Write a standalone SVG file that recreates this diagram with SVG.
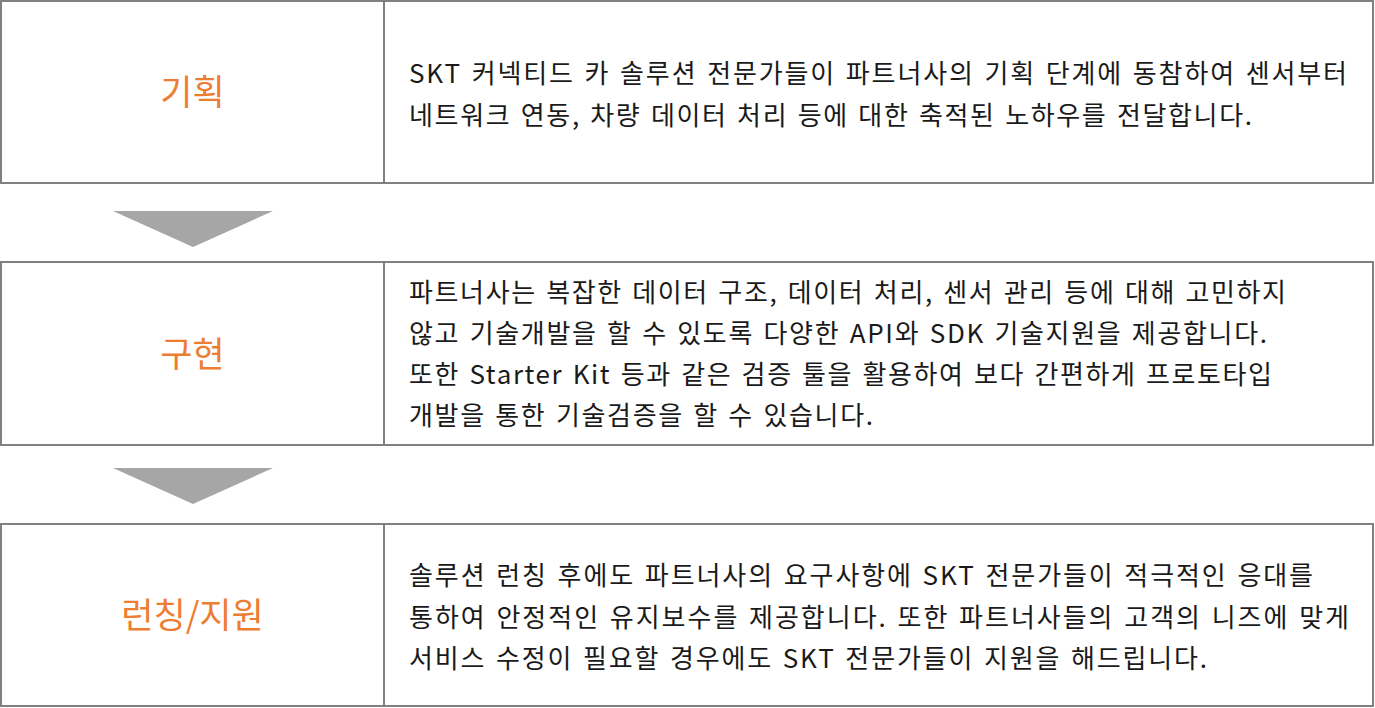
<svg xmlns="http://www.w3.org/2000/svg" width="1375" height="708" viewBox="0 0 1375 708">
<style>
.box{fill:#ffffff;stroke:#808080;stroke-width:2}
.div{stroke:#808080;stroke-width:2}
.lbl{font-family:"Noto Sans CJK KR","Noto Sans",sans-serif;font-size:35px;fill:#ED7D31;text-anchor:middle}
.txt{font-family:"Noto Sans CJK KR","Noto Sans",sans-serif;font-size:26px;fill:#1a1a1a;word-spacing:2px}
.arr{fill:#a6a6a6}
</style>
<rect width="1375" height="708" fill="#ffffff"/>
<g id="planning">
<rect class="box" x="1" y="1" width="1372" height="182"/>
<line class="div" x1="384" y1="1" x2="384" y2="183"/>
<text class="lbl" x="192.5" y="105">기획</text>
<text class="txt" x="409" y="83" textLength="938" lengthAdjust="spacing">SKT 커넥티드 카 솔루션 전문가들이 파트너사의 기획 단계에 동참하여 센서부터</text>
<text class="txt" x="409" y="125" textLength="843" lengthAdjust="spacing">네트워크 연동, 차량 데이터 처리 등에 대한 축적된 노하우를 전달합니다.</text>
</g>
<g id="implementation">
<rect class="box" x="1" y="262" width="1372" height="183"/>
<line class="div" x1="384" y1="262" x2="384" y2="445"/>
<text class="lbl" x="192.5" y="367">구현</text>
<text class="txt" x="409" y="302" textLength="877" lengthAdjust="spacing">파트너사는 복잡한 데이터 구조, 데이터 처리, 센서 관리 등에 대해 고민하지</text>
<text class="txt" x="409" y="343" textLength="858" lengthAdjust="spacing">않고 기술개발을 할 수 있도록 다양한 API와 SDK 기술지원을 제공합니다.</text>
<text class="txt" x="409" y="384" textLength="863" lengthAdjust="spacing">또한 Starter Kit 등과 같은 검증 툴을 활용하여 보다 간편하게 프로토타입</text>
<text class="txt" x="409" y="425" textLength="464" lengthAdjust="spacing">개발을 통한 기술검증을 할 수 있습니다.</text>
</g>
<g id="launch-support">
<rect class="box" x="1" y="524" width="1372" height="182"/>
<line class="div" x1="384" y1="524" x2="384" y2="706"/>
<text class="lbl" x="192.5" y="628">런칭/지원</text>
<text class="txt" x="409" y="585" textLength="904" lengthAdjust="spacing">솔루션 런칭 후에도 파트너사의 요구사항에 SKT 전문가들이 적극적인 응대를</text>
<text class="txt" x="409" y="627" textLength="940" lengthAdjust="spacing">통하여 안정적인 유지보수를 제공합니다. 또한 파트너사들의 고객의 니즈에 맞게</text>
<text class="txt" x="409" y="668" textLength="798" lengthAdjust="spacing">서비스 수정이 필요할 경우에도 SKT 전문가들이 지원을 해드립니다.</text>
</g>
<g id="connectors">
<polygon class="arr" points="113,211 273,211 193,247"/>
<polygon class="arr" points="113,468 273,468 193,504"/>
</g>
</svg>
